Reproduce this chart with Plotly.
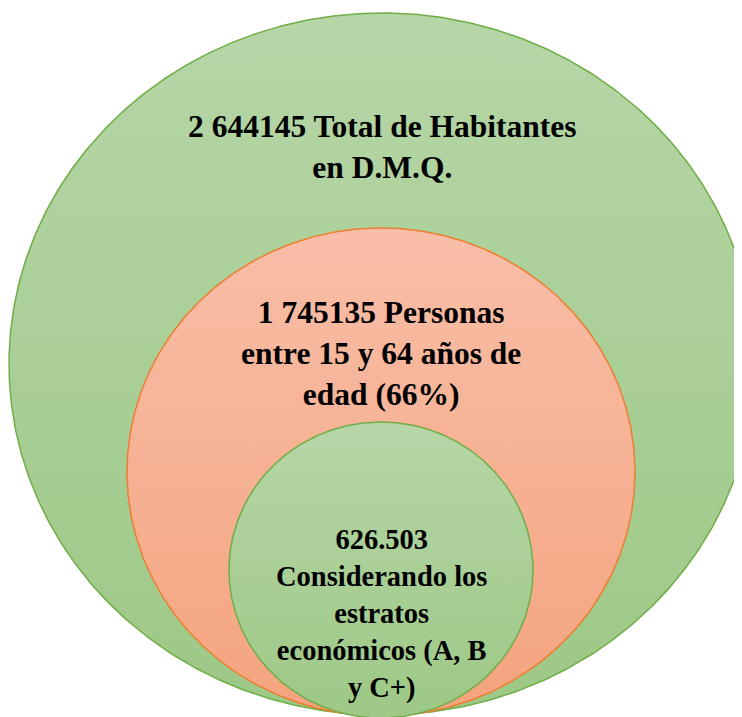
import numpy as np
import plotly.graph_objects as go

# ---- data ----
values = [2644145, 1745135, 626503]
value_labels = ["2 644145", "1 745135", "626.503"]
descriptions = [
    ["Total de Habitantes", "en D.M.Q."],
    ["Personas", "entre 15 y 64 años de", "edad (66%)"],
    ["Considerando los", "estratos", "económicos (A, B", "y C+)"],
]

# ---- layout / style (pixel space) ----
OFF = 8            # page body margin
X1, Y1 = 742, 717  # plotted extent in page pixels
shapes_geom = [  # cx, cy, rx, ry
    (382, 364, 373, 351),
    (381, 472, 254, 244),
    (381, 570, 152, 148),
]
fills = [
    ("#b6d6a7", "#9dc886"),
    ("#f8bea8", "#f4a47e"),
    ("#b6d6a7", "#9dc886"),
]
edges = ["#70ad47", "#ed7d31", "#70ad47"]
text_y = [147, 353, 614]
text_sizes = [31.5, 31.5, 28.5]
FONT = "Liberation Serif, Times New Roman, serif"

fig = go.Figure()
t = np.linspace(0, 2 * np.pi, 721)
for (cx, cy, rx, ry), (c1, c2), ec in zip(shapes_geom, fills, edges):
    xs = cx + rx * np.cos(t)
    ys = cy + ry * np.sin(t)
    fig.add_trace(go.Scatter(
        x=xs, y=ys, mode="lines", fill="toself",
        line=dict(color=ec, width=1.5),
        fillgradient=dict(type="vertical", start=cy - ry, stop=cy + ry,
                          colorscale=[[0, c1], [1, c2]]),
        hoverinfo="skip", showlegend=False,
    ))

for i in range(len(values)):
    lines = descriptions[i]
    if i < 2:
        txt = value_labels[i] + " " + lines[0] + "<br>" + "<br>".join(lines[1:])
    else:
        txt = value_labels[i] + "<br>" + "<br>".join(lines)
    fig.add_annotation(
        x=shapes_geom[i][0], y=text_y[i], xref="x", yref="y",
        text="<b>" + txt + "</b>", showarrow=False,
        font=dict(family=FONT, size=text_sizes[i], color="black"),
        align="center", xanchor="center", yanchor="middle",
    )

fig.update_xaxes(range=[OFF, X1], visible=False, fixedrange=True)
fig.update_yaxes(range=[Y1, OFF], visible=False, fixedrange=True)
fig.update_layout(
    width=X1 - OFF, height=Y1 - OFF, autosize=False,
    margin=dict(l=0, r=0, t=0, b=0),
    plot_bgcolor="white", paper_bgcolor="white", showlegend=False,
    font=dict(family=FONT),
)
fig.write_html("out.html", config={"responsive": False, "displayModeBar": False})
